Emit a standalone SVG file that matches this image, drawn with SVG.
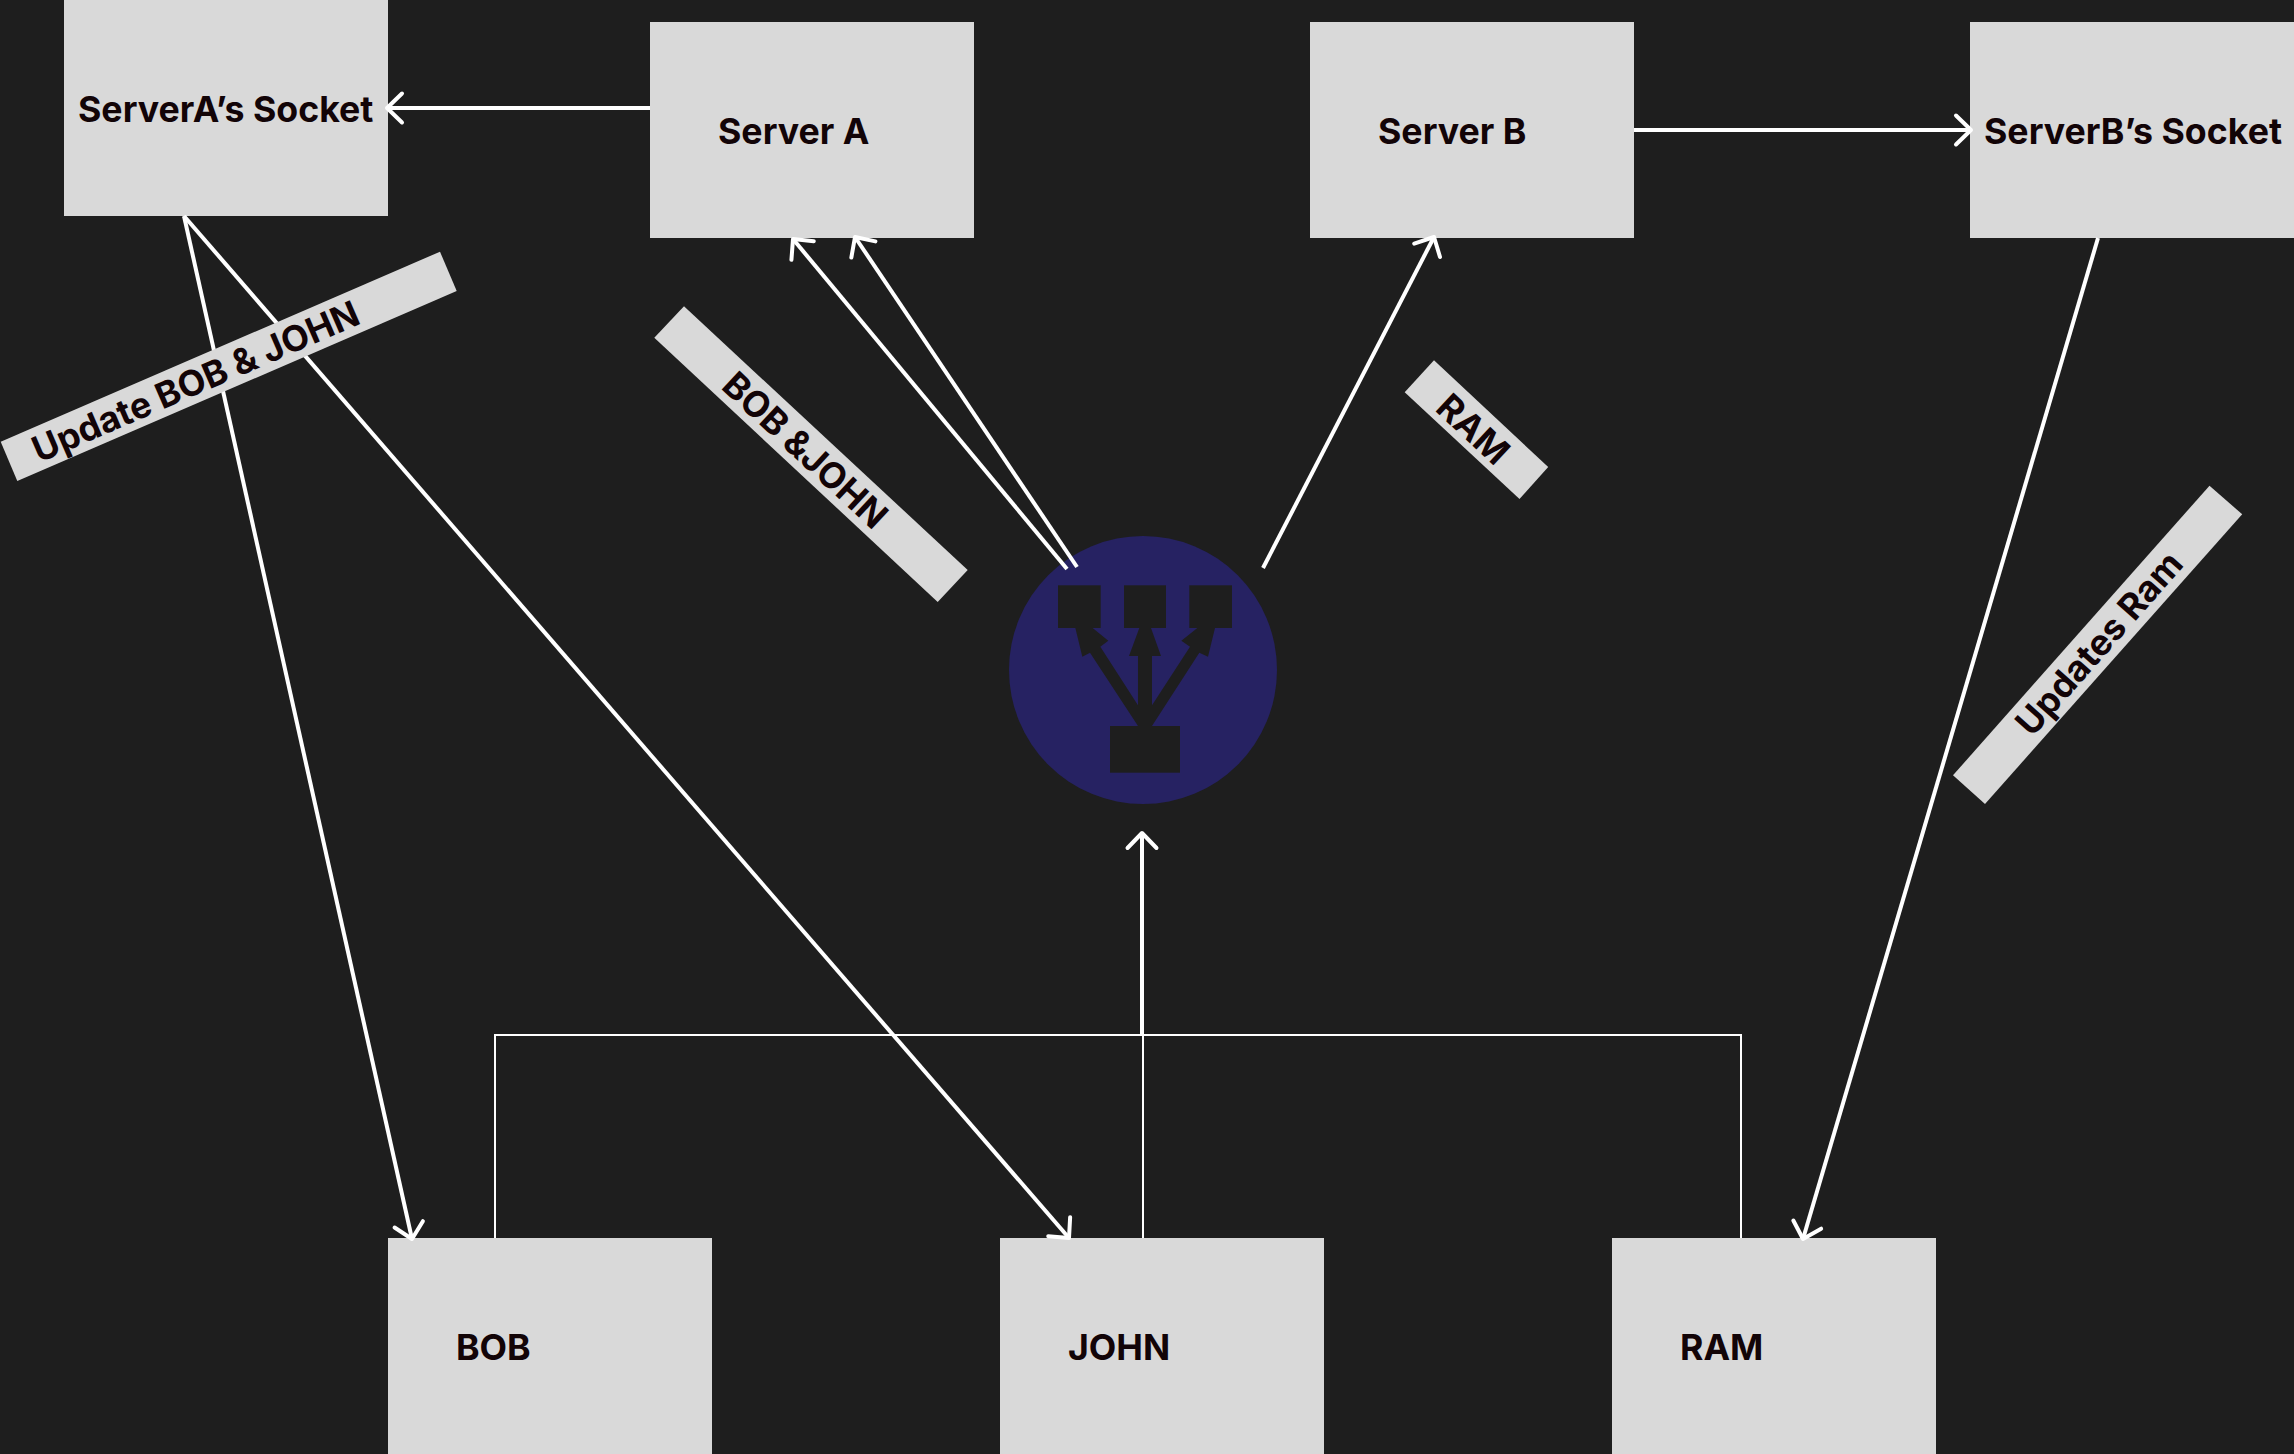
<svg xmlns="http://www.w3.org/2000/svg" width="2294" height="1454" viewBox="0 0 2294 1454">
<style>
.box{fill:#d9d9d9}
.t{font-family:Inter,"Liberation Sans",sans-serif;font-weight:700;font-size:35.7px;fill:#120407}
.w{stroke:#fff;stroke-width:4;fill:none}
.thin{stroke-width:2}
.a{marker-end:url(#arrow)}
</style>
<defs>
<marker id="arrow" markerUnits="userSpaceOnUse" markerWidth="40" markerHeight="40" refX="0" refY="0" viewBox="-20 -20 40 40" orient="auto" overflow="visible">
<path d="M-15-14.5 0 0-15 14.5" fill="none" stroke="#fff" stroke-width="4" stroke-linecap="round" stroke-linejoin="round"/>
</marker>
</defs>
<rect width="2294" height="1454" fill="#1e1e1e"/>
<g id="server-a-socket"><rect class="box" x="64" y="0" width="324" height="216"/><text class="t" x="78" y="122">ServerA’s Socket</text></g>
<g id="server-a"><rect class="box" x="650" y="22" width="324" height="216"/><text class="t" x="718" y="144">Server A</text></g>
<g id="server-b"><rect class="box" x="1310" y="22" width="324" height="216"/><text class="t" x="1378" y="144">Server B</text></g>
<g id="server-b-socket"><rect class="box" x="1970" y="22" width="324" height="216"/><text class="t" x="1984" y="144">ServerB’s Socket</text></g>
<g id="bob"><rect class="box" x="388" y="1238" width="324" height="216"/><text class="t" x="456" y="1360">BOB</text></g>
<g id="john"><rect class="box" x="1000" y="1238" width="324" height="216"/><text class="t" x="1068" y="1360">JOHN</text></g>
<g id="ram"><rect class="box" x="1612" y="1238" width="324" height="216"/><text class="t" x="1680" y="1360">RAM</text></g>
<g id="load-balancer">
<circle cx="1143" cy="670" r="134" fill="#262262"/>
<g fill="#1e1e1e">
<rect x="1058" y="585.3" width="42.7" height="42.7"/>
<rect x="1124" y="585.3" width="42" height="42.7"/>
<rect x="1189.3" y="585.3" width="42.7" height="42.7"/>
<rect x="1110" y="726" width="70" height="46.7"/>
<polygon transform="translate(980 520) scale(.33333)" points="474,618 330,398 307,410 286,324 338,324 385,362 361,380 474,556 474,408 447,408 478,324 513,324 543,408 516,408 516,556 630,380 604,362 652,324 705,324 684,410 658,398 516,618"/>
</g>
</g>
<g id="connectors">
<line class="w a" x1="650" y1="108" x2="387" y2="108"/>
<line class="w a" x1="1634" y1="130" x2="1971" y2="130"/>
<line class="w a" x1="1067" y1="569" x2="793" y2="239"/>
<line class="w a" x1="1077" y1="567" x2="855" y2="237"/>
<line class="w a" x1="1263" y1="568" x2="1434" y2="237"/>
<line class="w a" x1="184" y1="216" x2="412" y2="1239"/>
<line class="w a" x1="184" y1="216" x2="1069" y2="1238"/>
<line class="w a" x1="2098" y1="238" x2="1803" y2="1239"/>
<path class="w thin" d="M495 1238V1035H1741V1238"/>
<line class="w thin" x1="1143" y1="1035" x2="1143" y2="1238"/>
<line class="w a" x1="1142" y1="1035" x2="1142" y2="833"/>
</g>
<g id="label-update-bob-john"><polygon class="box" points="440,251.7 456.7,291 17.3,481 .7,441.7"/><text class="t" transform="translate(39 463) rotate(-23.4)">Update BOB &amp; JOHN</text></g>
<g id="label-bob-john"><polygon class="box" points="684,306.3 967.7,570 937.7,602 654.3,337.7"/><text class="t" transform="translate(720 388) rotate(43)">BOB &amp;JOHN</text></g>
<g id="label-ram"><polygon class="box" points="1434,360.3 1548.2,467 1519.5,499 1404.7,392.3"/><text class="t" transform="translate(1434 410) rotate(43)">RAM</text></g>
<g id="label-updates-ram"><polygon class="box" points="2209.5,485.7 2242.2,514.3 1985,804 1953,775.3"/><text class="t" transform="translate(2032 738) rotate(-48.5)">Updates Ram</text></g>
</svg>
